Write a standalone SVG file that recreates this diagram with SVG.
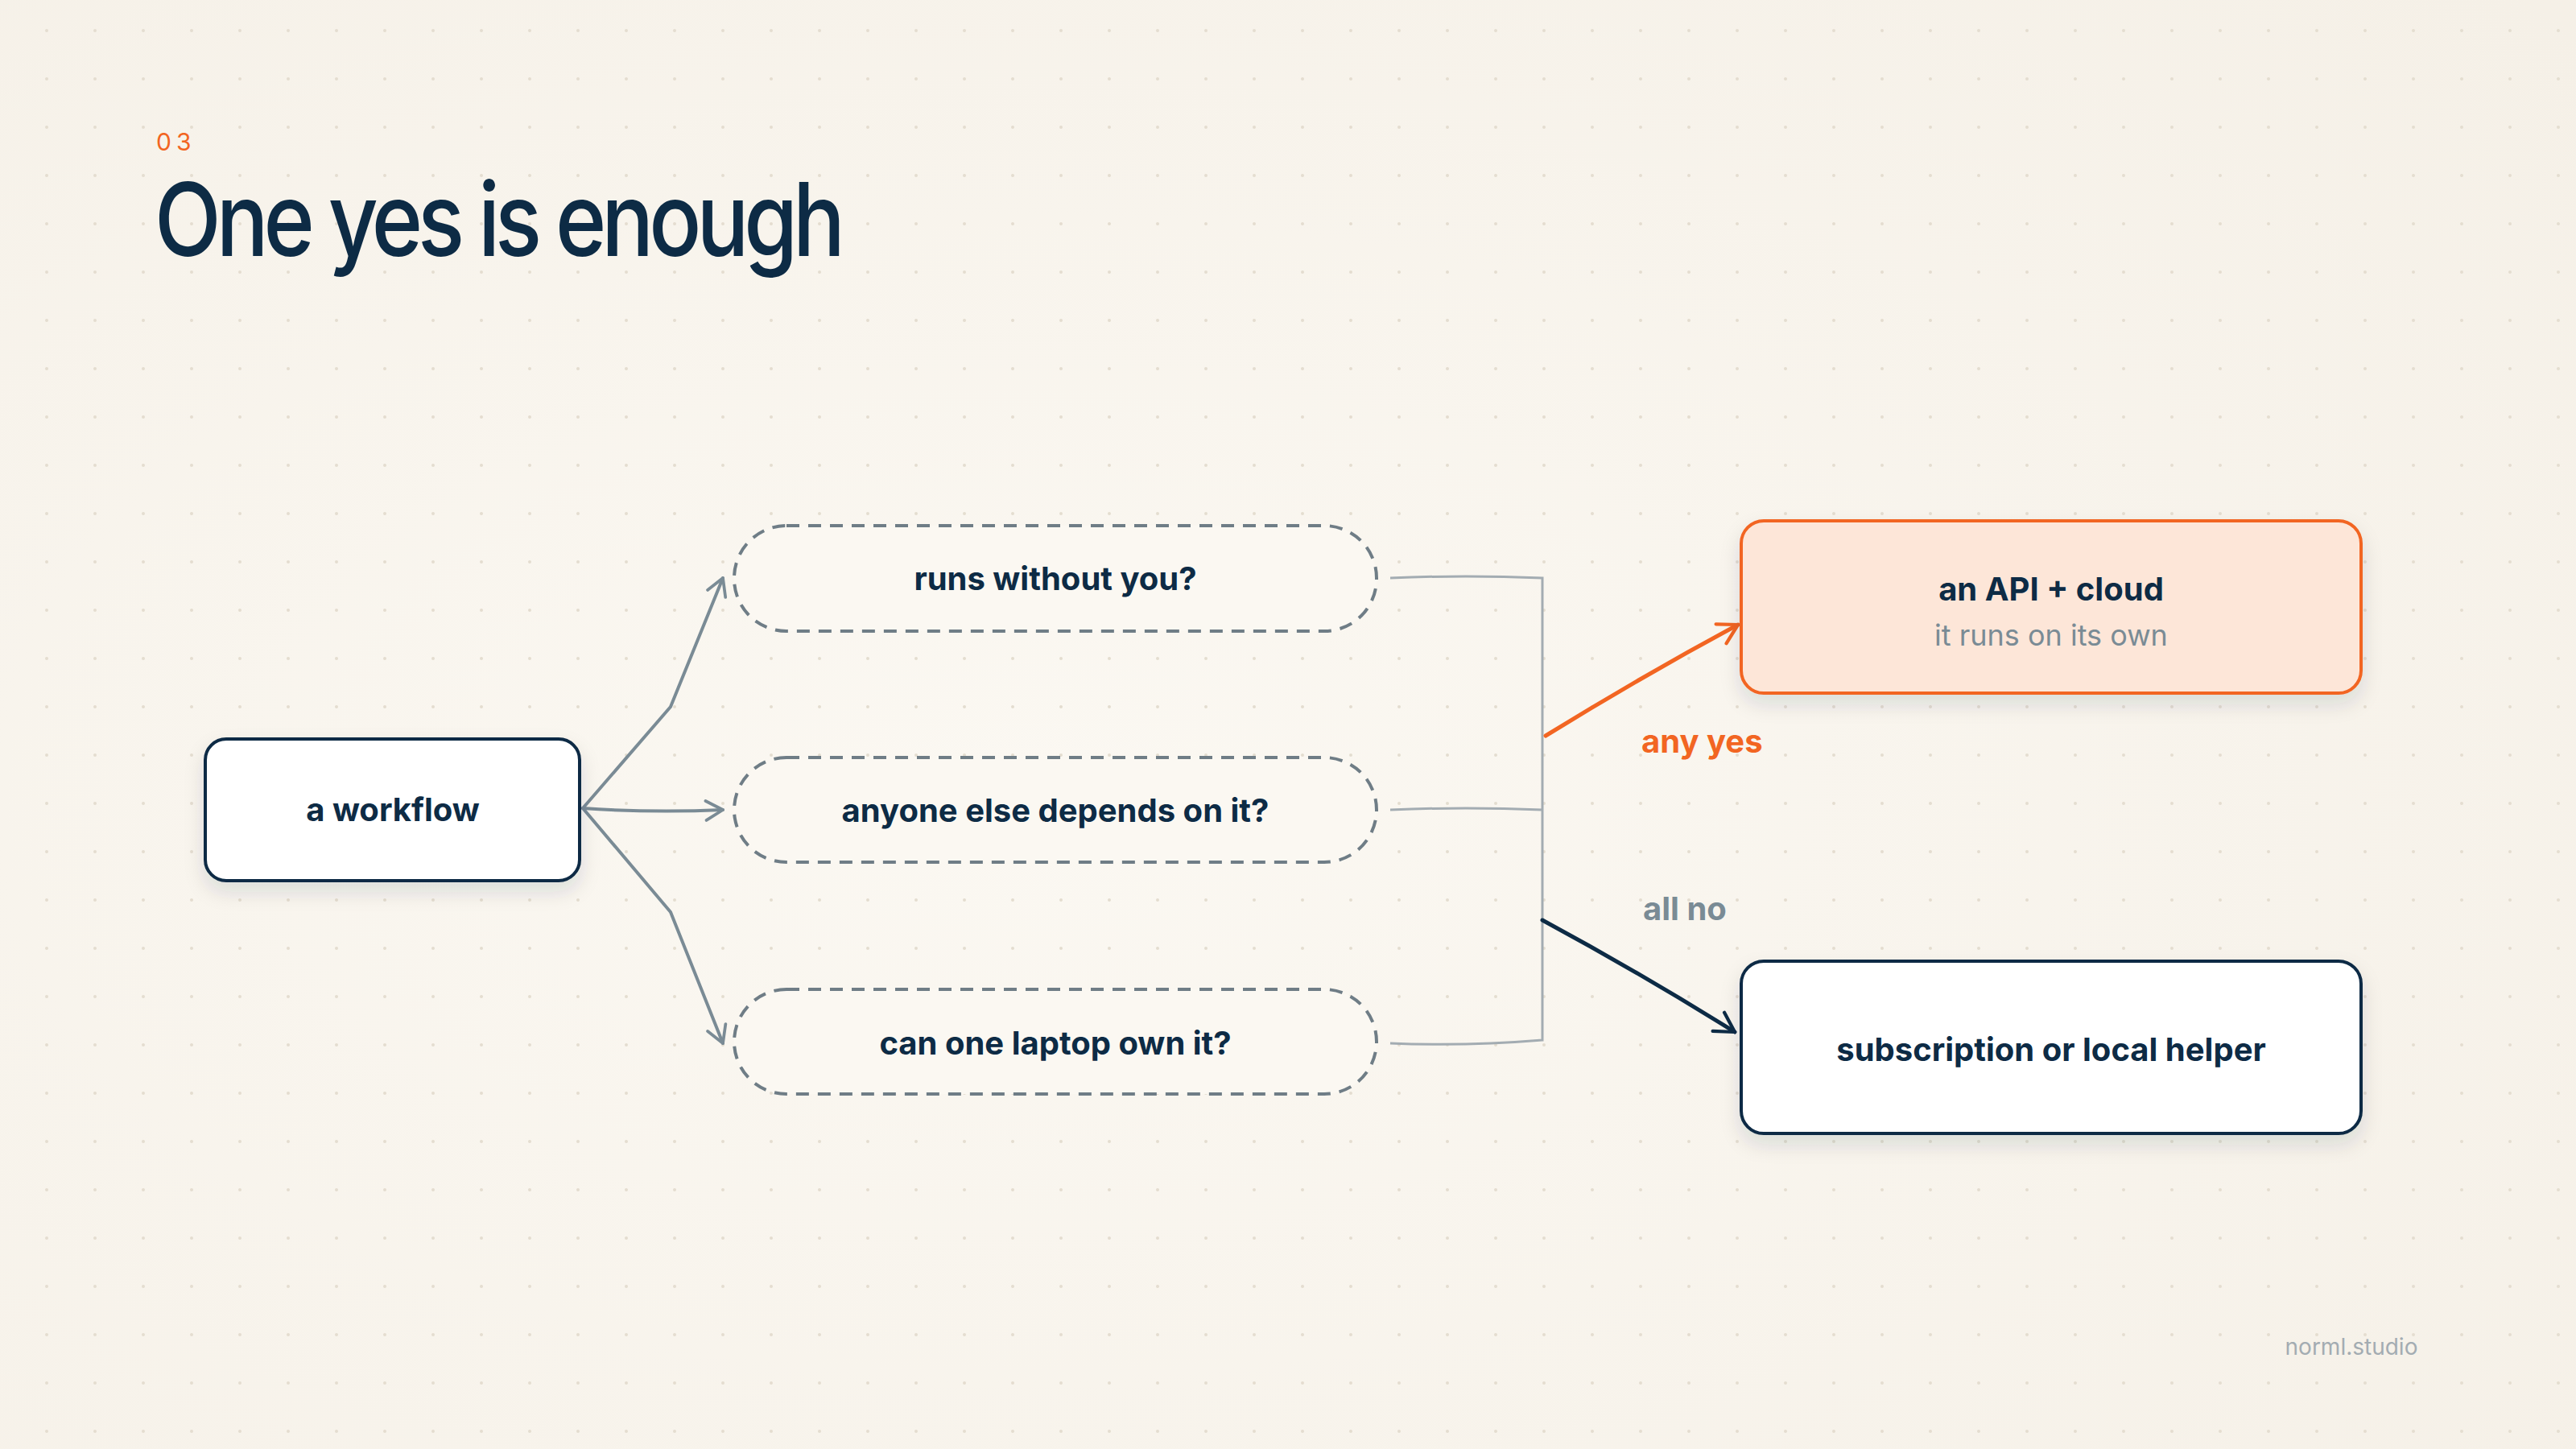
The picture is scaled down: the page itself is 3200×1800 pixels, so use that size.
<svg xmlns="http://www.w3.org/2000/svg" width="3200" height="1800" viewBox="0 0 3200 1800">
<defs>
<pattern id="dots" width="60" height="60" patternUnits="userSpaceOnUse"><circle cx="58" cy="38" r="2" fill="#e4ddd0"/></pattern>
<radialGradient id="bg" cx="0.4" cy="0.55" r="0.8"><stop offset="0" stop-color="#fbf8f2"/><stop offset="1" stop-color="#f5f0e7"/></radialGradient>
<filter id="sh" x="-20%" y="-20%" width="140%" height="150%"><feDropShadow dx="0" dy="12" stdDeviation="12" flood-color="#0d2b45" flood-opacity="0.12"/></filter>
<marker id="ag" viewBox="0 0 20 20" refX="17" refY="10" markerWidth="30" markerHeight="30" markerUnits="userSpaceOnUse" orient="auto"><path d="M3,2 L17,10 L3,18" fill="none" stroke="#7a8b95" stroke-width="2.5" stroke-linecap="round" stroke-linejoin="round"/></marker>
<marker id="ao" viewBox="0 0 20 20" refX="17" refY="10" markerWidth="34" markerHeight="34" markerUnits="userSpaceOnUse" orient="auto"><path d="M3,2 L17,10 L3,18" fill="none" stroke="#f26522" stroke-width="2.5" stroke-linecap="round" stroke-linejoin="round"/></marker>
<marker id="ad" viewBox="0 0 20 20" refX="17" refY="10" markerWidth="34" markerHeight="34" markerUnits="userSpaceOnUse" orient="auto"><path d="M3,2 L17,10 L3,18" fill="none" stroke="#0d2b45" stroke-width="2.5" stroke-linecap="round" stroke-linejoin="round"/></marker>
</defs>
<style>
.t{font-family:Inter,"Liberation Sans",sans-serif;font-weight:700;fill:#0d2b45;font-size:40px;text-anchor:middle}
.pill{fill:#fbf8f2;stroke:#6f7d86;stroke-width:4;stroke-dasharray:16 11}
.box{fill:#fff;stroke:#0d2b45;stroke-width:4;filter:url(#sh)}
.g{fill:none;stroke:#7a8b95;stroke-width:4;stroke-linecap:round}
.br{fill:none;stroke:#a3acb2;stroke-width:3}
</style>
<rect width="3200" height="1800" fill="url(#bg)"/>
<rect width="3200" height="1800" fill="url(#dots)"/>
<text x="194" y="187" font-family="Inter,'Liberation Sans',sans-serif" font-size="30" fill="#f26522" letter-spacing="6">03</text>
<text x="192" y="318" font-family="Inter,'Liberation Sans',sans-serif" font-size="126" font-weight="500" fill="#0d2b45" letter-spacing="-7" textLength="852" lengthAdjust="spacingAndGlyphs">One yes is enough</text>
<g id="connectors">
<path class="g" d="M724,1004 L833,878 L898,718" marker-end="url(#ag)"/>
<path class="g" d="M724,1004 Q810,1010 898,1006" marker-end="url(#ag)"/>
<path class="g" d="M724,1004 L833,1133 L898,1296" marker-end="url(#ag)"/>
<path class="br" d="M1727,718 Q1820,714 1916,718 L1916,1292 Q1820,1300 1727,1296 M1727,1006 Q1820,1002 1916,1006"/>
<path d="M1920,914 Q2040,840 2159,776" fill="none" stroke="#f26522" stroke-width="5" stroke-linecap="round" marker-end="url(#ao)"/>
<path d="M1916,1143 Q2040,1210 2155,1282" fill="none" stroke="#0d2b45" stroke-width="5" stroke-linecap="round" marker-end="url(#ad)"/>
<text x="2039" y="935" class="t" style="text-anchor:start;fill:#f26522">any yes</text>
<text x="2041" y="1143" class="t" style="text-anchor:start;fill:#7a8b95">all no</text>
</g>
<g id="workflow"><rect x="255" y="918" width="465" height="176" rx="26" class="box"/><text x="488" y="1020" class="t">a workflow</text></g>
<g id="q1"><rect x="912" y="653" width="798" height="131" rx="65" class="pill"/><text x="1311" y="733" class="t">runs without you?</text></g>
<g id="q2"><rect x="912" y="941" width="798" height="130" rx="65" class="pill"/><text x="1311" y="1021" class="t">anyone else depends on it?</text></g>
<g id="q3"><rect x="912" y="1229" width="798" height="130" rx="65" class="pill"/><text x="1311" y="1310" class="t">can one laptop own it?</text></g>
<g id="api"><rect x="2163" y="647" width="770" height="214" rx="28" fill="#fde6d8" stroke="#f26522" stroke-width="4" filter="url(#sh)"/><text x="2548" y="746" class="t">an API + cloud</text><text x="2548" y="802" class="t" style="font-weight:400;fill:#7a8b95;font-size:36px">it runs on its own</text></g>
<g id="sub"><rect x="2163" y="1194" width="770" height="214" rx="28" class="box"/><text x="2548" y="1318" class="t">subscription or local helper</text></g>
<text x="2921" y="1683" font-family="Inter,'Liberation Sans',sans-serif" font-size="28" fill="#a3acb2" text-anchor="middle">norml.studio</text>
</svg>
